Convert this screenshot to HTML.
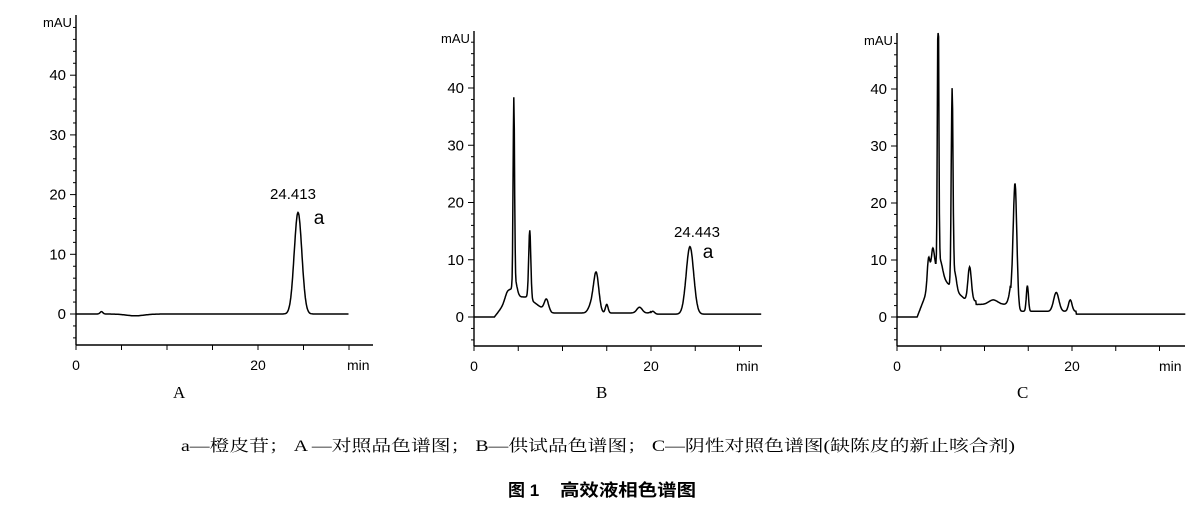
<!DOCTYPE html>
<html><head><meta charset="utf-8"><style>
html,body{margin:0;padding:0;background:#fff;}
svg{display:block;}
</style></head><body>
<svg id="s" width="1195" height="507" xmlns="http://www.w3.org/2000/svg" font-family="Liberation Sans, sans-serif">
<rect width="1195" height="507" fill="#fff"/>
<g id="g"></g>
<text x="173" y="398" font-family="Liberation Serif, serif" font-size="17">A</text>
<text x="596" y="398" font-family="Liberation Serif, serif" font-size="17">B</text>
<text x="1017" y="398" font-family="Liberation Serif, serif" font-size="17">C</text>
<text x="181" y="451" font-size="16" textLength="834" lengthAdjust="spacingAndGlyphs" font-family="Liberation Serif, 'Noto Serif CJK SC', serif">a—橙皮苷；  A —对照品色谱图；  B—供试品色谱图；  C—阴性对照色谱图(缺陈皮的新止咳合剂)</text>
<text x="508" y="496" font-size="17" font-weight="bold" font-family="Liberation Sans, 'Noto Sans CJK SC', sans-serif">图 1</text>
<text x="560" y="496" font-size="17" font-weight="bold" textLength="136" lengthAdjust="spacingAndGlyphs" font-family="Liberation Sans, 'Noto Sans CJK SC', sans-serif">高效液相色谱图</text>
</svg>
<script>
const g=document.getElementById('g');let h='';
function gs(t,p){return p[1]*Math.exp(-0.5*((t-p[0])/p[2])**2);}
function panel(o){
 const {x0,y0,ppm,ppu,top,xb,xend,tend,f,labels}=o;
 h+=`<line x1="${x0}" y1="${top}" x2="${x0}" y2="${xb}" stroke="#000" stroke-width="1.4"/>`;
 h+=`<line x1="${x0}" y1="${xb}" x2="${xend}" y2="${xb}" stroke="#000" stroke-width="1.4"/>`;
 for(let v=-4;v<=48;v+=2){const y=y0-v*ppu/10;if(y<top)continue;const L=(v%10==0)?6:3;h+=`<line x1="${x0-L}" y1="${y}" x2="${x0}" y2="${y}" stroke="#000"/>`;}
 [0,10,20,30,40].forEach(v=>{const y=y0-v*ppu/10;h+=`<text x="${x0-10}" y="${y+5}" font-size="15" text-anchor="end">${v}</text>`;});
 h+=`<text x="${x0-33}" y="${top+12}" font-size="13">mAU</text>`;
 for(let m=0;m*ppm+x0<=xend;m+=5){const x=x0+m*ppm;h+=`<line x1="${x}" y1="${xb}" x2="${x}" y2="${xb+5}" stroke="#000"/>`;}
 h+=`<text x="${x0}" y="${xb+25}" font-size="14" text-anchor="middle">0</text>`;
 h+=`<text x="${x0+20*ppm}" y="${xb+25}" font-size="14" text-anchor="middle">20</text>`;
 h+=`<text x="${xend-26}" y="${xb+25}" font-size="14">min</text>`;
 let pts=[];for(let t=0;t<=tend;t+=0.05){let v=f(t);let y=y0-v*ppu/10;if(y<top)y=top;pts.push((x0+t*ppm).toFixed(1)+','+y.toFixed(1));}
 h+=`<polyline points="${pts.join(' ')}" fill="none" stroke="#000" stroke-width="1.5"/>`;
 labels.forEach(l=>h+=`<text x="${l[0]}" y="${l[1]}" font-size="${l[3]}" text-anchor="middle">${l[2]}</text>`);
}
function sum(t,P){let s=0;P.forEach(p=>s+=gs(t,p));return s;}
panel({x0:76,y0:314,ppm:9.1,ppu:59.7,top:15,xb:345,xend:373,tend:30,
 f:t=>sum(t,[[24.4,17,0.42],[2.8,0.4,0.15],[6.5,-0.3,1]]),
 labels:[[293,199,'24.413',15],[319,224,'a',19]]});
panel({x0:474,y0:317,ppm:8.85,ppu:57.25,top:31,xb:346,xend:762,tend:32.5,
 f:t=>{let b=t<2.3?0:(t<9?Math.min(3.5,(t-2.3)*2)*(t<6?1:Math.max(0.2,1-(t-6)/3)):0.7);if(t>20)b=0.5;
 return b+sum(t,[[4.5,32,0.08],[4.6,3,0.25],[6.3,12,0.12],[3.8,1.5,0.3],[8.2,2.2,0.25],[13.8,7,0.3],[13.2,1.2,0.3],[15,1.5,0.15],[18.7,1,0.3],[20.2,0.5,0.2],[24.4,11.8,0.42]]);},
 labels:[[697,237,'24.443',15],[708,258,'a',19]]});
panel({x0:897,y0:317,ppm:8.75,ppu:57,top:33,xb:346,xend:1185,tend:33,
 f:t=>{let b=t<2.3?0:(t<9?Math.min(7,(t-2.3)*4)*(t<5?1:Math.max(0.4,1-(t-5)/5)):(t<20.5?(t<13?2.2:1):0.5));
 return b+sum(t,[[4.7,48,0.08],[4.9,3,0.3],[6.3,34,0.1],[3.6,5,0.15],[4.1,5,0.2],[6.6,3,0.2],[8.3,6,0.2],[11,0.8,0.5],[13.5,20,0.2],[13.2,4,0.3],[14.9,4.5,0.12],[18.2,3.3,0.3],[19.8,2,0.2]]);},
 labels:[]});
g.innerHTML=h;
</script>
</body></html>
